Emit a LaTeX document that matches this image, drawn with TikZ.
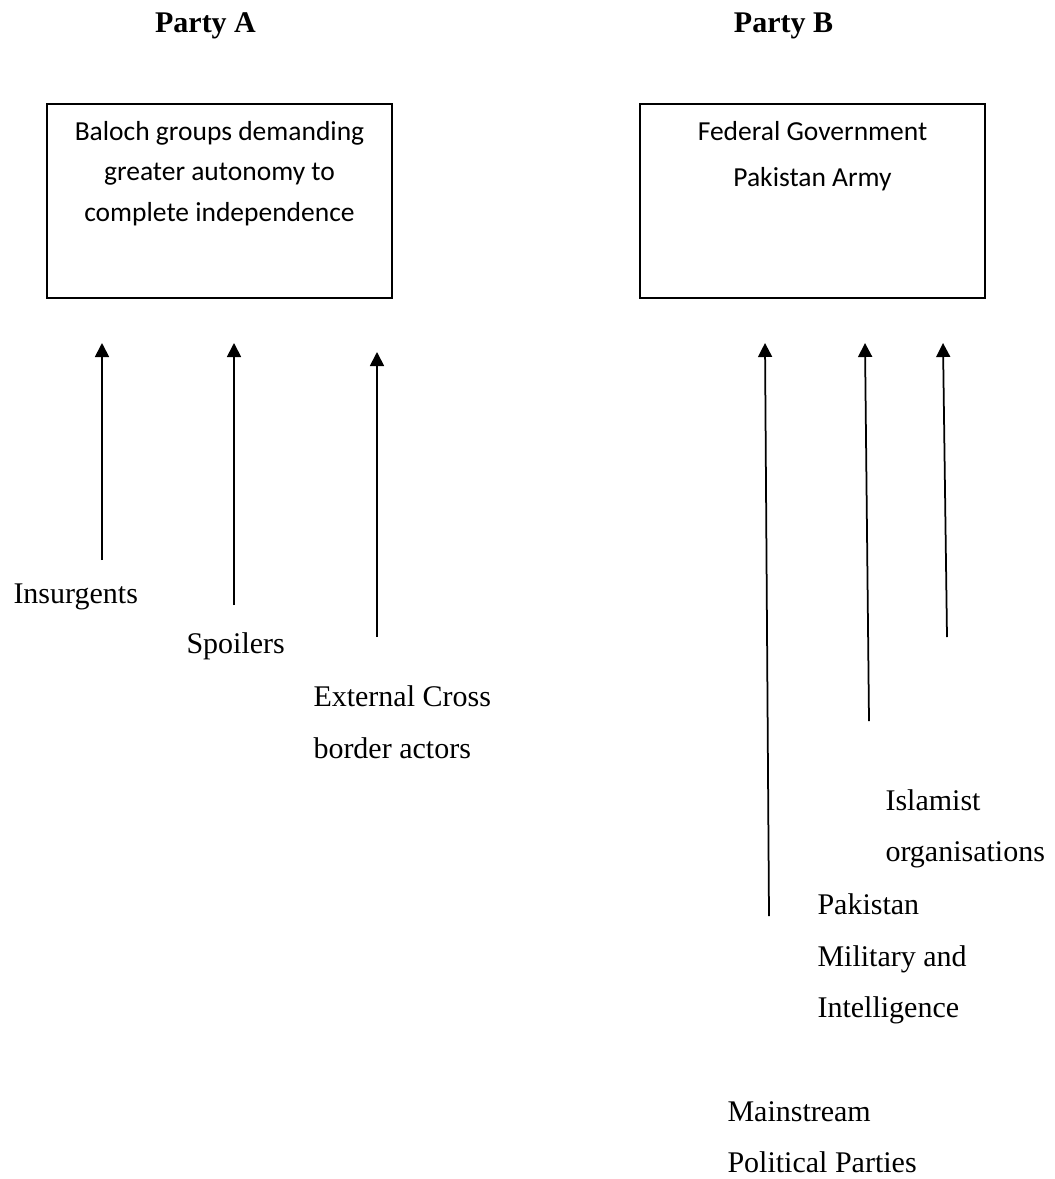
\documentclass[tikz,border=0pt]{standalone}
\usepackage{fontspec}
\setmainfont{Liberation Serif}
\newfontfamily\calibri{Carlito}
\usetikzlibrary{arrows.meta}
\begin{document}
\begin{tikzpicture}[x=0.4pt,y=-0.4pt,
  lbl/.style={font=\fontsize{12}{14}\selectfont, anchor=base west, inner sep=0pt},
  head/.style={font=\bfseries\fontsize{12}{14}\selectfont, anchor=base, inner sep=0pt},
  btext/.style={font=\calibri\fontsize{11}{13}\selectfont, anchor=base, inner sep=0pt},
  box/.style={draw, line width=0.8pt, minimum width=138pt, minimum height=77.6pt, inner sep=0pt},
  arr/.style={-{Triangle[width=5.6pt,length=5.6pt]}, line width=0.7pt}]
\useasboundingbox (0,0) rectangle (1054,1179);
% headings
\node[head] (pA) at (205.5,33) {Party A};
\node[head] (pB) at (783.5,33) {Party B};
% boxes
\node[box] (boxA) at (219.5,201) {};
\node[box] (boxB) at (812.5,201) {};
\node[btext] (a1) at (219.5,140) {Baloch groups demanding};
\node[btext] (a2) at (219.5,181) {greater autonomy to};
\node[btext] (a3) at (219.5,221) {complete independence};
\node[btext] (b1) at (812.5,140) {Federal Government};
\node[btext] (b2) at (812.5,187) {Pakistan Army};
% labels
\node[lbl] (ins) at (13,603) {Insurgents};
\node[lbl] (spo) at (186,653) {Spoilers};
\node[lbl] (ext1) at (313,706) {External Cross};
\node[lbl] (ext2) at (313,758) {border actors};
\node[lbl] (isl1) at (885,810) {Islamist};
\node[lbl] (isl2) at (885,861) {organisations};
\node[lbl] (pak1) at (817,914) {Pakistan};
\node[lbl] (pak2) at (817,966) {Military and};
\node[lbl] (pak3) at (817,1017) {Intelligence};
\node[lbl] (mai1) at (727,1121) {Mainstream};
\node[lbl] (mai2) at (727,1172) {Political Parties};
% arrow end points
\coordinate (sA1) at (102,560);  \coordinate (tA1) at (102,343);
\coordinate (sA2) at (234,605);  \coordinate (tA2) at (234,343);
\coordinate (sA3) at (377,637);  \coordinate (tA3) at (377,352);
\coordinate (sB1) at (769,916);  \coordinate (tB1) at (765,343);
\coordinate (sB2) at (869,721);  \coordinate (tB2) at (865,343);
\coordinate (sB3) at (947,637);  \coordinate (tB3) at (943,343);
\draw[arr] (sA1) -- (tA1);
\draw[arr] (sA2) -- (tA2);
\draw[arr] (sA3) -- (tA3);
\draw[arr] (sB1) -- (tB1);
\draw[arr] (sB2) -- (tB2);
\draw[arr] (sB3) -- (tB3);
\end{tikzpicture}
\end{document}
